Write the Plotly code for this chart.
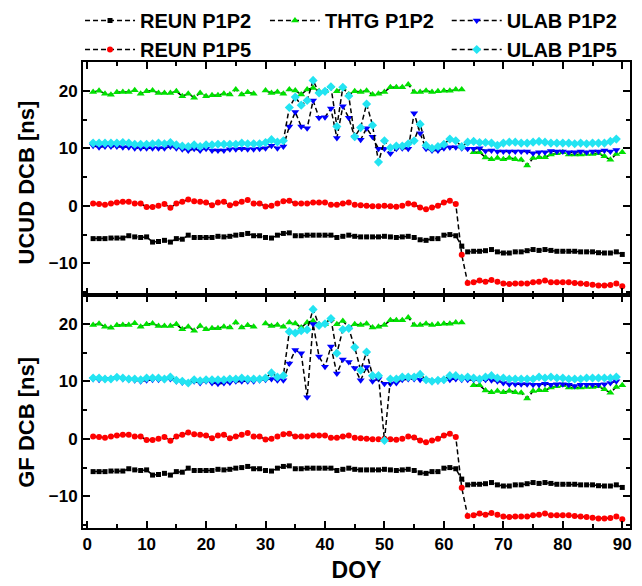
import plotly.graph_objects as go
from plotly.subplots import make_subplots

doy = list(range(1, 91))

# REUN P1P2 (same in both panels)
reun_p1p2 = [-5.7, -5.7, -5.7, -5.6, -5.6, -5.6, -5.2, -5.4, -5.5, -5.4,
             -6.3, -6.2, -6.0, -6.3, -5.7, -5.8, -5.1, -5.5, -5.5, -5.5,
             -5.5, -5.3, -5.4, -5.3, -5.1, -5.0, -4.8, -5.2, -5.2, -5.5,
             -5.6, -5.1, -4.8, -4.7, -5.2, -5.2, -5.1, -5.1, -5.1, -5.1,
             -5.1, -5.5, -5.3, -5.1, -5.3, -5.4, -5.4, -5.4, -5.4, -5.3,
             -5.4, -5.5, -5.4, -5.3, -5.5, -5.9, -6.0, -5.7, -5.7, -5.1,
             -5.0, -5.2, -7.0, -8.0, -7.9, -7.9, -7.8, -7.6, -8.0, -8.2,
             -8.2, -8.0, -8.0, -7.8, -7.6, -7.75, -7.6, -7.75, -7.9, -7.9,
             -7.9, -7.9, -8.0, -8.0, -8.0, -8.15, -8.2, -8.2, -8.0, -8.45]

# REUN P1P5
reun_p1p5 = [0.4, 0.3, 0.2, 0.4, 0.6, 0.7, 0.7, 0.4, 0.4, -0.2,
             -0.2, 0.0, 0.3, -0.35, 0.4, 0.7, 1.1, 0.8, 0.7, 0.6,
             0.1, 0.6, 0.7, 0.1, 0.4, 0.7, 1.0, 0.4, 0.4, -0.1,
             0.0, 0.4, 0.8, 0.9, 0.4, 0.4, 0.4, 0.6, 0.6, 0.6,
             0.2, 0.2, 0.4, 0.6, 0.2, 0.1, 0.0, -0.06, -0.06, 0.0,
             -0.06, -0.17, 0.0, 0.4, 0.23, -0.3, -0.6, -0.3, 0.0, 0.6,
             0.9, 0.3, -8.5, -13.4, -13.3, -13.0, -13.2, -12.9, -13.2, -13.5,
             -13.6, -13.5, -13.5, -13.5, -13.3, -13.2, -13.0, -13.3, -13.3, -13.3,
             -13.3, -13.4, -13.5, -13.6, -13.7, -13.85, -13.85, -13.75, -13.5, -14.0]

# THTG P1P2 (None = no data)
thtg_p1p2 = [19.8, 20.0, 19.5, 19.3, 19.75, 19.8, 19.8, 20.1, 19.5, 19.9,
             20.05, 19.6, 19.6, 19.6, 19.9, 19.05, 19.5, 18.8, 19.6, 19.05,
             19.2, 19.2, 19.5, 19.35, 20.2, 19.35, 19.75, 19.5, None, 20.05,
             19.6, 19.8, 19.5, 20.2, 20.05, 19.35, 20.2, 20.5, 19.9, 19.9,
             20.8, 19.9, 20.5, 19.35, 19.9, 19.8, 20.0, 19.35, 19.5, 19.8,
             20.6, 20.6, 20.6, 21.1, 19.8, 19.8, 20.0, 19.8, 19.9, 20.0,
             20.0, 20.2, 20.2, None, 9.3, 9.3, 8.4, 8.1, 8.3, 8.1,
             8.3, 8.1, 8.0, 7.0, 8.3, 8.45, 8.45, 8.9, 9.15, 9.3,
             8.9, 8.9, 8.9, 9.0, 9.0, 9.15, 8.6, 8.0, 9.0, 9.3]

# ULAB P1P2, UCUD panel
ulab_p1p2_ucud = [10.43, 10.2, 10.3, 10.3, 10.3, 10.2, 10.2, 10.0, 10.0, 10.0,
                  10.0, 10.0, 10.0, 10.3, 10.0, 9.85, 9.6, 9.9, 9.6, 9.9,
                  9.6, 9.6, 9.6, 9.85, 9.85, 9.9, 9.85, 9.85, 9.9, 10.0,
                  10.43, 10.0, 10.3, 13.8, 16.3, 13.8, 13.5, 18.3, 15.3, 15.4,
                  16.9, 11.8, 17.3, 15.3, 11.9, 11.5, 13.5, 12.0, 9.9, 9.9,
                  9.1, 9.9, 10.0, 9.9, 16.1, 12.6, 9.9, 9.6, 9.6, 10.0,
                  10.2, 10.2, 10.0, 9.9, 9.9, 10.0, 9.55, 9.6, 9.44, 9.44,
                  9.44, 9.44, 9.44, 9.44, 9.14, 9.3, 9.3, 9.55, 9.44, 9.44,
                  9.3, 9.3, 9.44, 9.3, 9.44, 9.44, 9.6, 9.44, 9.7, None]

# ULAB P1P5, UCUD panel
ulab_p1p5_ucud = [10.9, 10.9, 10.9, 10.9, 10.9, 11.0, 10.9, 10.7, 10.7, 10.7,
                  10.8, 10.9, 10.8, 11.0, 10.6, 10.4, 10.3, 10.6, 10.3, 10.6,
                  10.6, 10.7, 10.7, 10.7, 10.7, 10.9, 10.8, 10.8, 10.8, 11.0,
                  11.5, 11.1, 11.3, 17.1, 18.9, 17.5, 18.3, 21.8, 19.6, 19.9,
                  20.7, 13.8, 20.6, 19.1, 12.0, 13.6, 17.7, 14.0, 7.6, 11.3,
                  10.1, 10.4, 10.4, 10.8, 11.3, 14.2, 10.5, 10.0, 10.3, 10.7,
                  11.6, 11.3, 10.3, 11.07, 11.2, 11.0, 11.0, 10.9, 10.5, 10.9,
                  11.07, 11.07, 10.9, 10.9, 11.07, 11.2, 11.07, 10.9, 10.9, 10.9,
                  10.9, 10.8, 10.9, 10.8, 10.9, 10.9, 10.9, 11.2, 11.6, None]

# ULAB P1P2, GF panel
ulab_p1p2_gf = [10.4, 10.28, 10.4, 10.4, 10.58, 10.4, 10.28, 10.17, 10.0, 10.17,
                10.28, 10.28, 10.28, 10.4, 10.0, 9.8, 9.7, 10.0, 9.7, 10.0,
                9.7, 9.57, 9.7, 9.8, 10.0, 10.0, 10.0, 10.0, 10.17, 10.28,
                10.4, 10.17, 10.17, 13.1, 15.46, 14.87, 7.23, 19.98, 14.3, 12.52,
                16.04, 11.34, 13.8, 13.34, 12.3, 10.17, 12.5, 10.0, 10.4, 9.57,
                9.57, 9.7, 10.28, 10.4, 10.4, 10.28, 10.17, 10.0, 10.0, 10.17,
                10.28, 10.4, 10.28, 10.28, 10.28, 10.17, 10.28, 10.17, 10.0, 9.7,
                9.5, 9.5, 9.5, 9.5, 9.4, 9.4, 9.57, 9.4, 9.5, 9.5,
                9.4, 9.2, 9.4, 9.4, 9.4, 9.4, 9.5, 9.7, 10.0, None]

# ULAB P1P5, GF panel
ulab_p1p5_gf = [10.58, 10.58, 10.4, 10.4, 10.7, 10.58, 10.4, 10.4, 10.28, 10.58,
                10.58, 10.58, 10.4, 10.75, 10.17, 10.0, 9.7, 10.28, 10.1, 10.28,
                10.28, 10.28, 10.28, 10.4, 10.4, 10.58, 10.4, 10.4, 10.4, 10.58,
                11.46, 10.75, 10.98, 18.63, 18.4, 18.8, 18.98, 22.5, 19.7, 20.0,
                20.9, 14.87, 19.0, 19.2, 15.9, 11.93, 15.1, 10.98, 10.98, -0.3,
                10.4, 10.4, 10.75, 10.75, 10.75, 11.2, 10.28, 10.0, 10.17, 10.28,
                10.98, 10.98, 10.58, 10.75, 10.58, 10.4, 10.75, 10.98, 10.58, 10.58,
                10.4, 10.4, 10.4, 10.4, 10.4, 10.75, 10.58, 10.75, 10.58, 10.58,
                10.4, 10.4, 10.4, 10.58, 10.58, 10.58, 10.58, 10.58, 10.75, None]

x_ticks = [0, 10, 20, 30, 40, 50, 60, 70, 80, 90]
y_ticks = [-10, 0, 10, 20]

FONT = "Liberation Sans, Arial, sans-serif"
LINE = dict(color="black", width=1.5, dash="5px,3px")

series = [
    ("REUN P1P2", "square", 5, "#000000", "legend", reun_p1p2, reun_p1p2),
    ("REUN P1P5", "circle", 6, "#FF0000", "legend", reun_p1p5, reun_p1p5),
    ("THTG P1P2", "triangle-up", 7, "#00E000", "legend2", thtg_p1p2, thtg_p1p2),
    ("ULAB P1P2", "triangle-down", 7, "#0000FF", "legend3", ulab_p1p2_ucud, ulab_p1p2_gf),
    ("ULAB P1P5", "diamond", 7, "#22E4F2", "legend3", ulab_p1p5_ucud, ulab_p1p5_gf),
]

fig = make_subplots(rows=2, cols=1, shared_xaxes=True, vertical_spacing=0)

for name, sym, size, color, leg, top, bot in series:
    for row, vals in ((1, top), (2, bot)):
        fig.add_trace(go.Scatter(
            x=doy, y=vals, mode="lines+markers", name=name,
            line=LINE, connectgaps=False,
            marker=dict(symbol=sym, size=size, color=color, line=dict(width=0)),
            showlegend=(row == 1), legend=leg,
        ), row=row, col=1)

axis_common = dict(showline=True, linewidth=2, linecolor="black", mirror="ticks",
                   ticks="inside", ticklen=7, tickwidth=2, tickcolor="black",
                   showgrid=False, zeroline=False,
                   tickfont=dict(family=FONT, size=17, color="black", weight="bold"))

for r in (1, 2):
    fig.update_xaxes(range=[-0.7, 91.3], tickvals=x_ticks,
                     minor=dict(ticks="inside", ticklen=4, tickwidth=2, dtick=5, tick0=0, tickcolor="black"),
                     **axis_common, row=r, col=1)
    fig.update_yaxes(range=[-15.5, 25], tickvals=y_ticks,
                     minor=dict(ticks="inside", ticklen=4, tickwidth=2, dtick=5, tick0=0, tickcolor="black"),
                     **axis_common, row=r, col=1)

fig.update_xaxes(title=dict(text="DOY", font=dict(family=FONT, size=23, color="black", weight="bold"), standoff=8), row=2, col=1)

title_font = dict(family=FONT, size=22, color="black", weight="bold")
fig.add_annotation(text="UCUD DCB [ns]", xref="paper", yref="paper", x=-0.1024, y=0.7414,
                   textangle=-90, showarrow=False, font=title_font, xanchor="center", yanchor="middle")
fig.add_annotation(text="GF DCB [ns]", xref="paper", yref="paper", x=-0.1024, y=0.228,
                   textangle=-90, showarrow=False, font=title_font, xanchor="center", yanchor="middle")

leg_common = dict(orientation="v", xanchor="left", yanchor="top", y=1.1309,
                  yref="paper", xref="container",
                  bgcolor="rgba(0,0,0,0)", itemwidth=50, tracegroupgap=0,
                  font=dict(family=FONT, size=20, color="black", weight="bold"))

# page body adds an 8 px offset, so the figure is 8 px smaller than the window
fig.update_layout(
    width=634, height=578,
    margin=dict(l=75, r=12, t=54, b=58, autoexpand=False),
    paper_bgcolor="white", plot_bgcolor="white",
    legend=dict(x=0.1136, **leg_common),
    legend2=dict(x=0.4053, **leg_common),
    legend3=dict(x=0.692, **leg_common),
)

fig.write_html("out.html")
